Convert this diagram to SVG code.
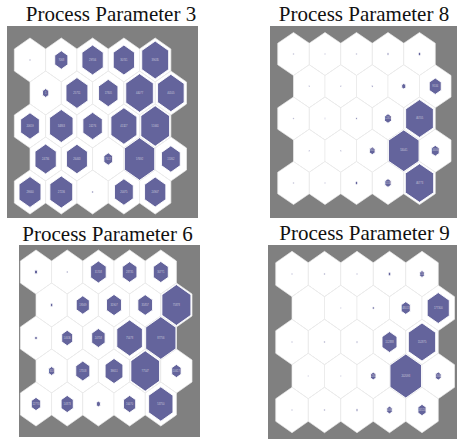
<svg xmlns="http://www.w3.org/2000/svg" xmlns:xlink="http://www.w3.org/1999/xlink" width="457" height="439" viewBox="0 0 457 439">
  <style>
    .bg{fill:#808080}
    .cell{fill:#fff;stroke:#ebebeb;stroke-width:0.7}
    .val{fill:#64649c;stroke:#fff;stroke-width:0.9}
    .ttl{font-family:"Liberation Serif","Times New Roman",serif;font-size:21px;fill:#111;text-anchor:middle}
    .lbl{font-family:"Liberation Sans",Arial,sans-serif;font-size:2.6px;fill:#fff;fill-opacity:.65;text-anchor:middle;dominant-baseline:central}
  </style>
  <defs>
    <!-- unit pointy-top hexagon, half-width 1, half-height 1 -->
    <path id="hx" d="M0,-1 L1,-0.5 L1,0.5 L0,1 L-1,0.5 L-1,-0.5Z" vector-effect="non-scaling-stroke"/>
    <!-- 5x5 grid of empty cells in unit coordinates -->
    <g id="grid" class="cell">
      <use href="#hx" x="0" y="0"/><use href="#hx" x="2" y="0"/><use href="#hx" x="4" y="0"/><use href="#hx" x="6" y="0"/><use href="#hx" x="8" y="0"/>
      <use href="#hx" x="1" y="1.5"/><use href="#hx" x="3" y="1.5"/><use href="#hx" x="5" y="1.5"/><use href="#hx" x="7" y="1.5"/><use href="#hx" x="9" y="1.5"/>
      <use href="#hx" x="0" y="3"/><use href="#hx" x="2" y="3"/><use href="#hx" x="4" y="3"/><use href="#hx" x="6" y="3"/><use href="#hx" x="8" y="3"/>
      <use href="#hx" x="1" y="4.5"/><use href="#hx" x="3" y="4.5"/><use href="#hx" x="5" y="4.5"/><use href="#hx" x="7" y="4.5"/><use href="#hx" x="9" y="4.5"/>
      <use href="#hx" x="0" y="6"/><use href="#hx" x="2" y="6"/><use href="#hx" x="4" y="6"/><use href="#hx" x="6" y="6"/><use href="#hx" x="8" y="6"/>
    </g>
  </defs>

  <rect width="457" height="439" fill="#fff"/>

  <!-- Process Parameter 3 -->
  <g id="pp3">
    <text class="ttl" x="111" y="21">Process Parameter 3</text>
    <rect class="bg" x="7" y="26" width="191" height="192"/>
    <g transform="translate(30,60) scale(15.65,22)">
      <use href="#grid"/>
      <g class="val">
        <use href="#hx" transform="translate(0,0) scale(.05)"/>
        <use href="#hx" transform="translate(2,0) scale(.42)"/>
        <use href="#hx" transform="translate(4,0) scale(.68)"/>
        <use href="#hx" transform="translate(6,0) scale(.68)"/>
        <use href="#hx" transform="translate(8,0) scale(.86)"/>
        <use href="#hx" transform="translate(1,1.5) scale(.2)"/>
        <use href="#hx" transform="translate(3,1.5) scale(.7)"/>
        <use href="#hx" transform="translate(5,1.5) scale(.62)"/>
        <use href="#hx" transform="translate(7,1.5) scale(.88)"/>
        <use href="#hx" transform="translate(9,1.5) scale(.85)"/>
        <use href="#hx" transform="translate(0,3) scale(.6)"/>
        <use href="#hx" transform="translate(2,3) scale(.75)"/>
        <use href="#hx" transform="translate(4,3) scale(.62)"/>
        <use href="#hx" transform="translate(6,3) scale(.83)"/>
        <use href="#hx" transform="translate(8,3) scale(.92)"/>
        <use href="#hx" transform="translate(1,4.5) scale(.68)"/>
        <use href="#hx" transform="translate(3,4.5) scale(.67)"/>
        <use href="#hx" transform="translate(5,4.5) scale(.28)"/>
        <use href="#hx" transform="translate(7,4.5) scale(.97)"/>
        <use href="#hx" transform="translate(9,4.5) scale(.6)"/>
        <use href="#hx" transform="translate(0,6) scale(.7)"/>
        <use href="#hx" transform="translate(2,6) scale(.73)"/>
        <use href="#hx" transform="translate(4,6) scale(.05)"/>
        <use href="#hx" transform="translate(6,6) scale(.6)"/>
        <use href="#hx" transform="translate(8,6) scale(.68)"/>
      </g>
    </g>
    <g class="lbl">
      <text x="61.3" y="60">7068</text><text x="92.6" y="60">29706</text><text x="123.9" y="60">30741</text><text x="155.2" y="60">39035</text>
      <text x="45.65" y="93">1</text><text x="76.95" y="93">25751</text><text x="108.25" y="93">17805</text><text x="139.55" y="93">44077</text><text x="170.85" y="93">40105</text>
      <text x="30" y="126">20659</text><text x="61.3" y="126">34863</text><text x="92.6" y="126">24276</text><text x="123.9" y="126">41327</text><text x="155.2" y="126">51661</text>
      <text x="45.65" y="159">24736</text><text x="76.95" y="159">26463</text><text x="108.25" y="159">7617</text><text x="139.55" y="159">57692</text><text x="170.85" y="159">15362</text>
      <text x="30" y="192">29660</text><text x="61.3" y="192">27236</text><text x="123.9" y="192">20075</text><text x="155.2" y="192">24907</text>
    </g>
  </g>

  <!-- Process Parameter 8 -->
  <g id="pp8">
    <text class="ttl" x="364" y="21">Process Parameter 8</text>
    <rect class="bg" x="270" y="26" width="187" height="192"/>
    <g transform="translate(293.5,54) scale(15.75,21.5)">
      <use href="#grid"/>
      <g class="val">
        <use href="#hx" transform="translate(0,0) scale(.04)"/>
        <use href="#hx" transform="translate(2,0) scale(.04)"/>
        <use href="#hx" transform="translate(4,0) scale(.04)"/>
        <use href="#hx" transform="translate(6,0) scale(.06)"/>
        <use href="#hx" transform="translate(8,0) scale(.08)"/>
        <use href="#hx" transform="translate(1,1.5) scale(.04)"/>
        <use href="#hx" transform="translate(3,1.5) scale(.04)"/>
        <use href="#hx" transform="translate(5,1.5) scale(.05)"/>
        <use href="#hx" transform="translate(7,1.5) scale(.13)"/>
        <use href="#hx" transform="translate(9,1.5) scale(.38)"/>
        <use href="#hx" transform="translate(0,3) scale(.04)"/>
        <use href="#hx" transform="translate(2,3) scale(.04)"/>
        <use href="#hx" transform="translate(4,3) scale(.05)"/>
        <use href="#hx" transform="translate(6,3) scale(.22)"/>
        <use href="#hx" transform="translate(8,3) scale(.88)"/>
        <use href="#hx" transform="translate(1,4.5) scale(.04)"/>
        <use href="#hx" transform="translate(3,4.5) scale(.04)"/>
        <use href="#hx" transform="translate(5,4.5) scale(.18)"/>
        <use href="#hx" transform="translate(7,4.5) scale(.97)"/>
        <use href="#hx" transform="translate(9,4.5) scale(.25)"/>
        <use href="#hx" transform="translate(0,6) scale(.04)"/>
        <use href="#hx" transform="translate(2,6) scale(.04)"/>
        <use href="#hx" transform="translate(4,6) scale(.08)"/>
        <use href="#hx" transform="translate(6,6) scale(.2)"/>
        <use href="#hx" transform="translate(8,6) scale(.9)"/>
      </g>
    </g>
    <g class="lbl">
      <text x="435.25" y="86.25">9534</text>
      <text x="388" y="118.5">1261</text><text x="419.5" y="118.5">46705</text>
      <text x="372.25" y="150.75">801</text><text x="403.75" y="150.75">53041</text><text x="435.25" y="150.75">3406</text>
      <text x="388" y="183">1153</text><text x="419.5" y="183">46773</text>
    </g>
  </g>

  <!-- Process Parameter 6 -->
  <g id="pp6">
    <text class="ttl" x="107.5" y="240.5">Process Parameter 6</text>
    <rect class="bg" x="19" y="245" width="181" height="192"/>
    <g transform="translate(36,272) scale(15.6,22)">
      <use href="#grid"/>
      <g class="val">
        <use href="#hx" transform="translate(0,0) scale(.1)"/>
        <use href="#hx" transform="translate(2,0) scale(.05)"/>
        <use href="#hx" transform="translate(4,0) scale(.5)"/>
        <use href="#hx" transform="translate(6,0) scale(.47)"/>
        <use href="#hx" transform="translate(8,0) scale(.48)"/>
        <use href="#hx" transform="translate(1,1.5) scale(.08)"/>
        <use href="#hx" transform="translate(3,1.5) scale(.42)"/>
        <use href="#hx" transform="translate(5,1.5) scale(.48)"/>
        <use href="#hx" transform="translate(7,1.5) scale(.47)"/>
        <use href="#hx" transform="translate(9,1.5) scale(.93)"/>
        <use href="#hx" transform="translate(0,3) scale(.08)"/>
        <use href="#hx" transform="translate(2,3) scale(.35)"/>
        <use href="#hx" transform="translate(4,3) scale(.43)"/>
        <use href="#hx" transform="translate(6,3) scale(.82)"/>
        <use href="#hx" transform="translate(8,3) scale(.97)"/>
        <use href="#hx" transform="translate(1,4.5) scale(.2)"/>
        <use href="#hx" transform="translate(3,4.5) scale(.45)"/>
        <use href="#hx" transform="translate(5,4.5) scale(.57)"/>
        <use href="#hx" transform="translate(7,4.5) scale(.92)"/>
        <use href="#hx" transform="translate(9,4.5) scale(.3)"/>
        <use href="#hx" transform="translate(0,6) scale(.3)"/>
        <use href="#hx" transform="translate(2,6) scale(.39)"/>
        <use href="#hx" transform="translate(4,6) scale(.13)"/>
        <use href="#hx" transform="translate(6,6) scale(.39)"/>
        <use href="#hx" transform="translate(8,6) scale(.78)"/>
      </g>
    </g>
    <g class="lbl">
      <text x="98.4" y="272">31708</text><text x="129.6" y="272">28735</text><text x="160.8" y="272">30771</text>
      <text x="82.8" y="305">19569</text><text x="114" y="305">31907</text><text x="145.2" y="305">35857</text><text x="176.4" y="305">75878</text>
      <text x="67.2" y="338">14636</text><text x="98.4" y="338">24758</text><text x="129.6" y="338">75478</text><text x="160.8" y="338">87756</text>
      <text x="51.6" y="371">653</text><text x="82.8" y="371">17558</text><text x="114" y="371">39651</text><text x="145.2" y="371">77547</text><text x="176.4" y="371">10617</text>
      <text x="36" y="404">12770</text><text x="67.2" y="404">14873</text><text x="129.6" y="404">16470</text><text x="160.8" y="404">53750</text>
    </g>
  </g>

  <!-- Process Parameter 9 -->
  <g id="pp9">
    <text class="ttl" x="364.5" y="240">Process Parameter 9</text>
    <rect class="bg" x="268" y="245" width="189" height="194"/>
    <g transform="translate(292,274) scale(16.25,22.67)">
      <use href="#grid"/>
      <g class="val">
        <use href="#hx" transform="translate(0,0) scale(.04)"/>
        <use href="#hx" transform="translate(2,0) scale(.04)"/>
        <use href="#hx" transform="translate(4,0) scale(.04)"/>
        <use href="#hx" transform="translate(6,0) scale(.08)"/>
        <use href="#hx" transform="translate(8,0) scale(.15)"/>
        <use href="#hx" transform="translate(3,1.5) scale(.03)"/>
        <use href="#hx" transform="translate(5,1.5) scale(.06)"/>
        <use href="#hx" transform="translate(7,1.5) scale(.28)"/>
        <use href="#hx" transform="translate(9,1.5) scale(.68)"/>
        <use href="#hx" transform="translate(0,3) scale(.04)"/>
        <use href="#hx" transform="translate(2,3) scale(.04)"/>
        <use href="#hx" transform="translate(4,3) scale(.05)"/>
        <use href="#hx" transform="translate(6,3) scale(.46)"/>
        <use href="#hx" transform="translate(8,3) scale(.84)"/>
        <use href="#hx" transform="translate(1,4.5) scale(.03)"/>
        <use href="#hx" transform="translate(3,4.5) scale(.03)"/>
        <use href="#hx" transform="translate(5,4.5) scale(.17)"/>
        <use href="#hx" transform="translate(7,4.5) scale(.97)"/>
        <use href="#hx" transform="translate(9,4.5) scale(.18)"/>
        <use href="#hx" transform="translate(0,6) scale(.04)"/>
        <use href="#hx" transform="translate(2,6) scale(.04)"/>
        <use href="#hx" transform="translate(4,6) scale(.06)"/>
        <use href="#hx" transform="translate(6,6) scale(.17)"/>
        <use href="#hx" transform="translate(8,6) scale(.25)"/>
      </g>
    </g>
    <g class="lbl">
      <text x="422" y="274">210</text>
      <text x="405.75" y="308">48013</text><text x="438.25" y="308">177300</text>
      <text x="389.5" y="342">112888</text><text x="422" y="342">152875</text>
      <text x="373.25" y="376">1264</text><text x="405.75" y="376">202093</text><text x="438.25" y="376">1840</text>
      <text x="389.5" y="410">1095</text><text x="422" y="410">26520</text>
    </g>
  </g>
</svg>
